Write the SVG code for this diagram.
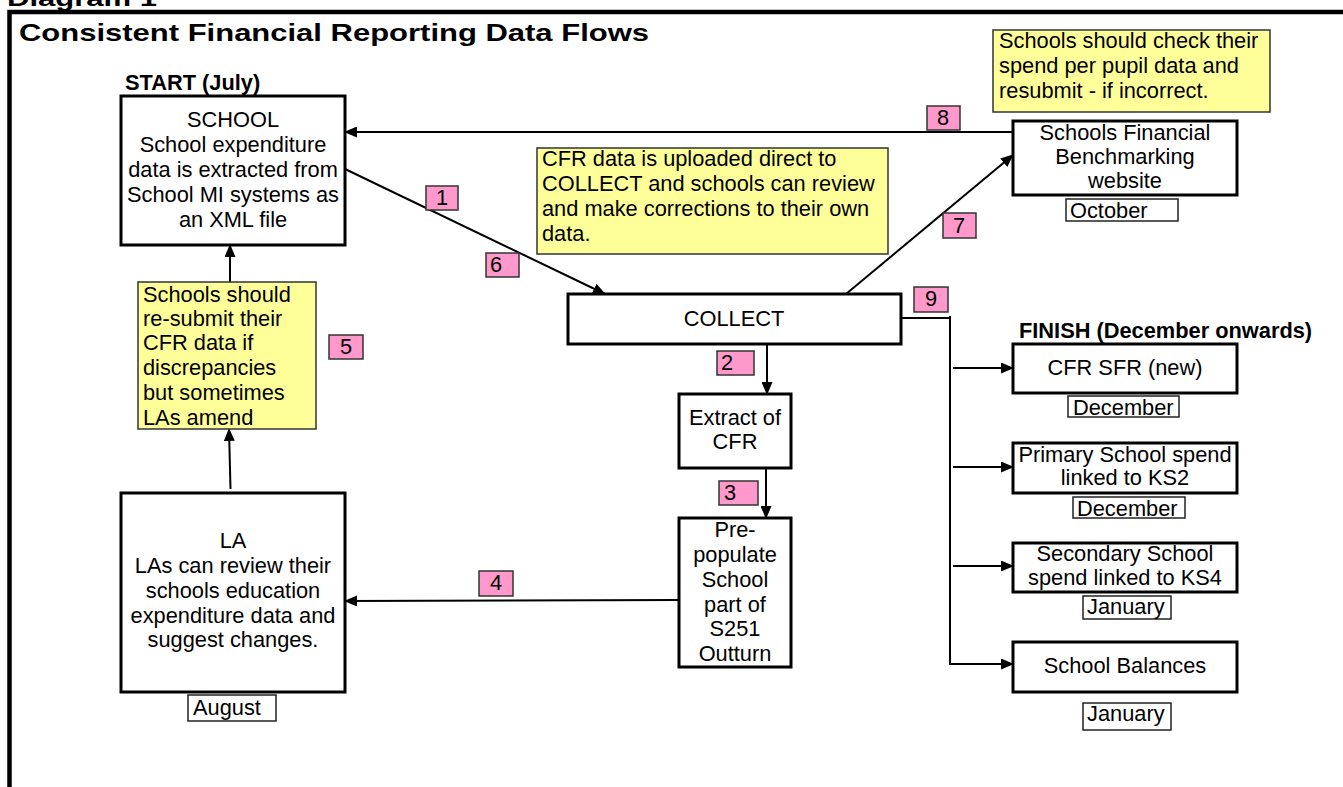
<svg xmlns="http://www.w3.org/2000/svg" width="1343" height="787" viewBox="0 0 1343 787">
<style>
  text { font-family: "Liberation Sans", Arial, sans-serif; font-size: 21.8px; fill: #000; }
  .b { font-weight: bold; }
  .c { text-anchor: middle; }
  .node { fill: #fff; stroke: #000; stroke-width: 3; }
  .note { fill: #FFFF99; stroke: #333; stroke-width: 1.5; }
  .tag { fill: #FF99CC; stroke: #333; stroke-width: 1.5; }
  .date { fill: #fff; stroke: #222; stroke-width: 1.5; }
  .con { fill: none; stroke: #000; stroke-width: 2; }
  .arr { marker-end: url(#ah); }
</style>
<defs>
  <marker id="ah" markerUnits="userSpaceOnUse" markerWidth="13" markerHeight="11" refX="12" refY="5.5" orient="auto">
    <path d="M0,0 L13,5.5 L0,11 z" fill="#000"/>
  </marker>
</defs>
<rect width="1343" height="787" fill="#fff"/>
<text class="b" x="7" y="6" font-size="23" textLength="150" lengthAdjust="spacingAndGlyphs">Diagram 1</text>
<path d="M9.5,787 V12 H1343" fill="none" stroke="#000" stroke-width="4.5"/>
<text class="b" x="19" y="41" style="font-size:24px" textLength="630" lengthAdjust="spacingAndGlyphs">Consistent Financial Reporting Data Flows</text>

<g id="connectors">
  <line class="con arr" x1="345" y1="169" x2="605" y2="294"/>
  <line class="con arr" x1="767" y1="344" x2="767" y2="394"/>
  <line class="con arr" x1="766" y1="468" x2="766" y2="518"/>
  <line class="con arr" x1="679" y1="600" x2="345" y2="601"/>
  <line class="con arr" x1="230.5" y1="489" x2="229" y2="429"/>
  <line class="con arr" x1="230" y1="282" x2="230" y2="245"/>
  <line class="con arr" x1="846" y1="294" x2="1013" y2="155"/>
  <line class="con arr" x1="1013" y1="132" x2="345" y2="132"/>
  <path class="con" d="M901,318 H950 M950,316 V665"/>
  <line class="con arr" x1="953" y1="368" x2="1013" y2="368"/>
  <line class="con arr" x1="953" y1="467" x2="1013" y2="467"/>
  <line class="con arr" x1="953" y1="566" x2="1013" y2="566"/>
  <line class="con arr" x1="950" y1="664" x2="1013" y2="664"/>
</g>

<g id="school">
  <text class="b" x="125" y="90">START (July)</text>
  <rect class="node" x="121" y="96" width="224" height="149"/>
  <text class="c"><tspan x="233" y="127">SCHOOL</tspan><tspan x="233" y="152">School expenditure</tspan><tspan x="233" y="177">data is extracted from</tspan><tspan x="233" y="202">School MI systems as</tspan><tspan x="233" y="227">an XML file</tspan></text>
</g>

<g id="note-resubmit">
  <rect class="note" x="138" y="282" width="178" height="147"/>
  <text><tspan x="143" y="302">Schools should</tspan><tspan x="143" y="326">re-submit their</tspan><tspan x="143" y="350">CFR data if</tspan><tspan x="143" y="375">discrepancies</tspan><tspan x="143" y="400">but sometimes</tspan><tspan x="143" y="425">LAs amend</tspan></text>
</g>

<g id="la">
  <rect class="node" x="121" y="493" width="224" height="199"/>
  <text class="c"><tspan x="233" y="548">LA</tspan><tspan x="233" y="573">LAs can review their</tspan><tspan x="233" y="598">schools education</tspan><tspan x="233" y="623">expenditure data and</tspan><tspan x="233" y="647">suggest changes.</tspan></text>
  <rect class="date" x="188" y="695" width="88" height="26"/>
  <text x="193" y="715">August</text>
</g>

<g id="note-cfr">
  <rect class="note" x="537" y="148" width="351" height="106"/>
  <text><tspan x="542" y="166">CFR data is uploaded direct to</tspan><tspan x="542" y="191">COLLECT and schools can review</tspan><tspan x="542" y="216">and make corrections to their own</tspan><tspan x="542" y="241">data.</tspan></text>
</g>

<g id="collect">
  <rect class="node" x="568" y="294" width="333" height="50"/>
  <text class="c" x="734" y="326">COLLECT</text>
</g>

<g id="extract">
  <rect class="node" x="679" y="394" width="112" height="74"/>
  <text class="c"><tspan x="735" y="425">Extract of</tspan><tspan x="735" y="449">CFR</tspan></text>
</g>

<g id="prepopulate">
  <rect class="node" x="679" y="518" width="112" height="149"/>
  <text class="c"><tspan x="735" y="537">Pre-</tspan><tspan x="735" y="562">populate</tspan><tspan x="735" y="587">School</tspan><tspan x="735" y="612">part of</tspan><tspan x="735" y="636">S251</tspan><tspan x="735" y="661">Outturn</tspan></text>
</g>

<g id="note-check">
  <rect class="note" x="993" y="30" width="277" height="82"/>
  <text><tspan x="999" y="48">Schools should check their</tspan><tspan x="999" y="73">spend per pupil data and</tspan><tspan x="999" y="98">resubmit - if incorrect.</tspan></text>
</g>

<g id="benchmarking">
  <rect class="node" x="1013" y="121" width="224" height="74"/>
  <text class="c"><tspan x="1125" y="140">Schools Financial</tspan><tspan x="1125" y="164">Benchmarking</tspan><tspan x="1125" y="188">website</tspan></text>
  <rect class="date" x="1066" y="199" width="112" height="22"/>
  <text x="1070" y="218">October</text>
</g>

<g id="finish">
  <text class="b" x="1019" y="338">FINISH (December onwards)</text>
</g>

<g id="cfr-sfr">
  <rect class="node" x="1013" y="344" width="224" height="49"/>
  <text class="c" x="1125" y="375">CFR SFR (new)</text>
  <rect class="date" x="1068" y="396" width="111" height="21"/>
  <text x="1073" y="415">December</text>
</g>

<g id="primary">
  <rect class="node" x="1013" y="443" width="224" height="50"/>
  <text class="c"><tspan x="1125" y="462">Primary School spend</tspan><tspan x="1125" y="485">linked to KS2</tspan></text>
  <rect class="date" x="1073" y="497" width="112" height="21"/>
  <text x="1077" y="516">December</text>
</g>

<g id="secondary">
  <rect class="node" x="1013" y="543" width="224" height="49"/>
  <text class="c"><tspan x="1125" y="561">Secondary School</tspan><tspan x="1125" y="585">spend linked to KS4</tspan></text>
  <rect class="date" x="1083" y="596" width="88" height="23"/>
  <text x="1087" y="614">January</text>
</g>

<g id="balances">
  <rect class="node" x="1013" y="642" width="224" height="50"/>
  <text class="c" x="1125" y="673">School Balances</text>
  <rect class="date" x="1083" y="703" width="88" height="27"/>
  <text x="1087" y="721">January</text>
</g>

<g id="tags">
  <rect class="tag" x="426" y="186" width="32" height="24"/><text class="c" x="442" y="205">1</text>
  <rect class="tag" x="717" y="351" width="37" height="24"/><text x="721" y="370">2</text>
  <rect class="tag" x="719" y="481" width="39" height="24"/><text x="724" y="500">3</text>
  <rect class="tag" x="479" y="571" width="34" height="25"/><text class="c" x="496" y="590">4</text>
  <rect class="tag" x="329" y="335" width="34" height="24"/><text class="c" x="346" y="354">5</text>
  <rect class="tag" x="486" y="253" width="33" height="24"/><text x="490" y="272">6</text>
  <rect class="tag" x="943" y="213" width="33" height="25"/><text class="c" x="959" y="233">7</text>
  <rect class="tag" x="927" y="106" width="33" height="24"/><text class="c" x="943" y="125">8</text>
  <rect class="tag" x="914" y="287" width="34" height="25"/><text class="c" x="931" y="306">9</text>
</g>
</svg>
